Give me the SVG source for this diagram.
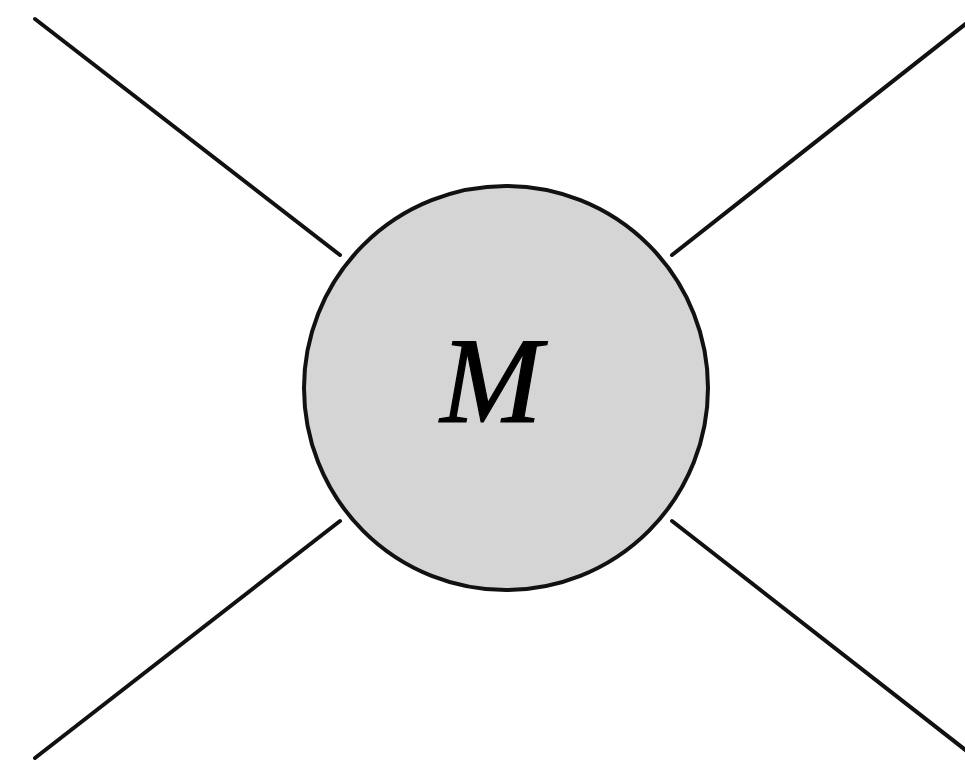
<svg xmlns="http://www.w3.org/2000/svg" width="965" height="767" viewBox="0 0 965 767">
<style>
.leg{stroke:#111;stroke-width:4;stroke-linecap:round;fill:none}
.node{fill:#d5d5d5;stroke:#111;stroke-width:4}
.lbl{font-family:"Liberation Serif",serif;font-style:italic;font-size:122px;fill:#000;stroke:#000;stroke-width:1.2}
</style>
<rect width="965" height="767" fill="#fff"/>
<g id="connectors">
<line class="leg" x1="35" y1="19" x2="340" y2="255"/>
<line class="leg" x1="672" y1="255" x2="968" y2="22"/>
<line class="leg" x1="35" y1="758" x2="340" y2="521"/>
<line class="leg" x1="672" y1="521" x2="968" y2="752"/>
</g>
<g id="node-M">
<circle class="node" cx="506" cy="388" r="202"/>
<text class="lbl" x="491" y="422" text-anchor="middle">M</text>
</g>
</svg>
